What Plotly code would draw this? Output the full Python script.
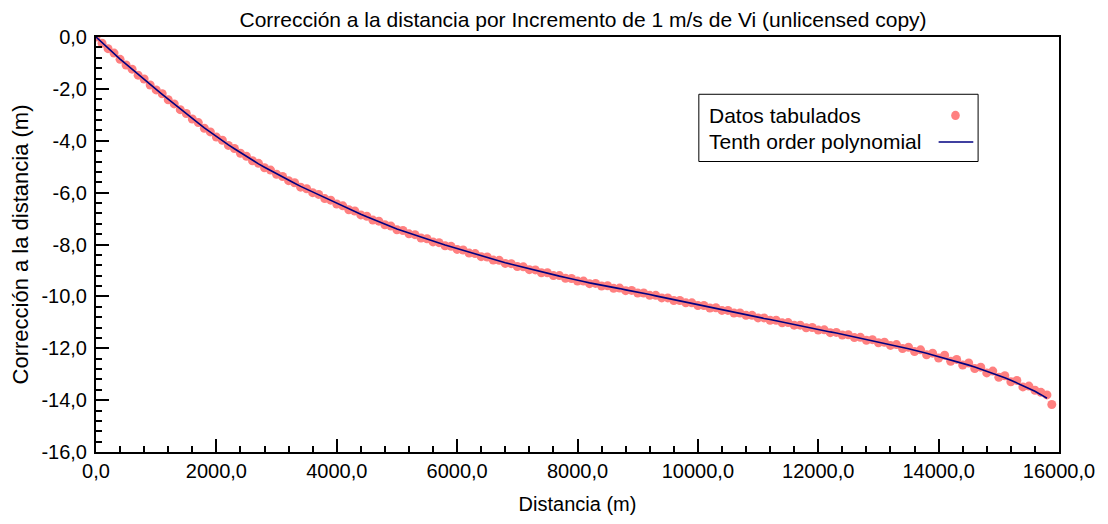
import plotly.graph_objects as go

# distancia (m) cada 100 m, mas el ultimo punto tabulado
distancia = list(range(0, 15801, 100))
dist_ultimo = 15880

# curva ajustada (polinomio de orden 10)
ajuste = [
    0.00, -0.22, -0.43, -0.64, -0.85, -1.05, -1.25, -1.45, -1.64, -1.83, -2.02,
    -2.21, -2.40, -2.59, -2.78, -2.96, -3.14, -3.32, -3.50, -3.67, -3.84,
    -4.00, -4.16, -4.31, -4.46, -4.61, -4.75, -4.89, -5.02, -5.15, -5.27,
    -5.40, -5.52, -5.64, -5.76, -5.87, -5.98, -6.09, -6.20, -6.31, -6.42,
    -6.53, -6.63, -6.73, -6.83, -6.93, -7.03, -7.12, -7.21, -7.31, -7.40,
    -7.48, -7.56, -7.64, -7.72, -7.80, -7.87, -7.95, -8.02, -8.09, -8.16,
    -8.23, -8.30, -8.37, -8.44, -8.50, -8.57, -8.63, -8.70, -8.76, -8.82,
    -8.88, -8.94, -9.00, -9.06, -9.11, -9.17, -9.22, -9.27, -9.33, -9.38,
    -9.43, -9.48, -9.52, -9.57, -9.61, -9.66, -9.70, -9.75, -9.79, -9.84,
    -9.89, -9.93, -9.98, -10.03, -10.08, -10.13, -10.18, -10.22, -10.27, -10.32,
    -10.37, -10.42, -10.46, -10.51, -10.56, -10.61, -10.66, -10.70, -10.75, -10.80,
    -10.85, -10.89, -10.94, -10.99, -11.04, -11.08, -11.13, -11.18, -11.22, -11.27,
    -11.32, -11.37, -11.41, -11.46, -11.51, -11.56, -11.61, -11.65, -11.70, -11.75,
    -11.80, -11.85, -11.91, -11.96, -12.02, -12.08, -12.13, -12.19, -12.26, -12.32,
    -12.38, -12.45, -12.51, -12.58, -12.65, -12.72, -12.80, -12.88, -12.96, -13.05,
    -13.14, -13.23, -13.33, -13.43, -13.54, -13.66, -13.79, -13.93,
]

# datos tabulados (puntos)
datos = [
    0.00, -0.24, -0.45, -0.62, -0.86, -1.08, -1.24, -1.47, -1.62, -1.85, -2.04,
    -2.19, -2.42, -2.58, -2.80, -2.95, -3.16, -3.30, -3.52, -3.66, -3.86,
    -3.98, -4.18, -4.30, -4.48, -4.60, -4.77, -4.87, -5.04, -5.13, -5.29,
    -5.38, -5.54, -5.62, -5.79, -5.85, -6.00, -6.07, -6.23, -6.29, -6.44,
    -6.51, -6.66, -6.71, -6.86, -6.91, -7.06, -7.10, -7.24, -7.29, -7.43,
    -7.46, -7.59, -7.62, -7.75, -7.78, -7.90, -7.93, -8.05, -8.07, -8.19,
    -8.21, -8.33, -8.35, -8.47, -8.48, -8.60, -8.61, -8.73, -8.74, -8.85,
    -8.86, -8.97, -8.98, -9.09, -9.09, -9.20, -9.20, -9.30, -9.31, -9.41,
    -9.41, -9.51, -9.50, -9.60, -9.59, -9.69, -9.68, -9.78, -9.77, -9.87,
    -9.87, -9.96, -9.96, -10.06, -10.06, -10.16, -10.16, -10.25, -10.25, -10.35,
    -10.35, -10.45, -10.44, -10.54, -10.54, -10.64, -10.64, -10.73, -10.73, -10.83,
    -10.83, -10.92, -10.92, -11.02, -11.01, -11.11, -11.11, -11.21, -11.20, -11.30,
    -11.29, -11.40, -11.39, -11.49, -11.48, -11.59, -11.58, -11.69, -11.67, -11.79,
    -11.77, -11.89, -11.86, -12.01, -11.96, -12.13, -12.06, -12.25, -12.19, -12.38,
    -12.27, -12.50, -12.43, -12.65, -12.57, -12.78, -12.73, -12.95, -12.88, -13.12,
    -13.06, -13.29, -13.24, -13.49, -13.46, -13.62, -13.70, -13.80,
    -14.17,
]
dist_datos = distancia + [dist_ultimo]

# etiquetas de los ejes
x_ticks = [0, 2000, 4000, 6000, 8000, 10000, 12000, 14000, 16000]
x_labels = ["0,0", "2000,0", "4000,0", "6000,0", "8000,0", "10000,0",
            "12000,0", "14000,0", "16000,0"]
y_ticks = [0, -2, -4, -6, -8, -10, -12, -14, -16]
y_labels = ["0,0", "-2,0", "-4,0", "-6,0", "-8,0", "-10,0", "-12,0",
            "-14,0", "-16,0"]

fuente = "Arial, Liberation Sans, sans-serif"
rojo = "#FF8080"
azul = "#000080"

fig = go.Figure()
fig.add_trace(go.Scatter(x=dist_datos, y=datos, mode="markers",
                         name="Datos tabulados",
                         marker=dict(color=rojo, size=9)))
fig.add_trace(go.Scatter(x=distancia, y=ajuste, mode="lines",
                         name="Tenth order polynomial",
                         line=dict(color=azul, width=1.6)))

eje = dict(showline=True, linecolor="black", linewidth=2, mirror=True,
           ticks="inside", tickwidth=2, tickcolor="black", ticklen=13,
           showgrid=False, zeroline=False, automargin=False,
           tickfont=dict(family=fuente, size=20, color="black"))

fig.update_xaxes(range=[0, 16000], tickvals=x_ticks, ticktext=x_labels,
                 minor=dict(ticks="inside", ticklen=6, tickwidth=2,
                            dtick=400, tick0=0, tickcolor="black"),
                 title=dict(text="Distancia (m)", standoff=16,
                            font=dict(family=fuente, size=20, color="black")),
                 ticklabelstandoff=0,
                 **eje)
fig.update_yaxes(range=[-16, 0], tickvals=y_ticks, ticktext=y_labels,
                 minor=dict(ticks="inside", ticklen=6, tickwidth=2,
                            dtick=0.4, tick0=0, tickcolor="black"),
                 title=dict(text="Corrección a la distancia (m)", standoff=8,
                            font=dict(family=fuente, size=22, color="black")),
                 ticklabelstandoff=3,
                 **eje)

# leyenda dibujada a mano (simbolos a la derecha del texto)
fig.add_shape(type="rect", xref="paper", yref="paper",
              x0=0.626, x1=0.916, y0=0.700, y1=0.862,
              line=dict(color="black", width=1), fillcolor="white")
fig.add_annotation(xref="paper", yref="paper", x=0.634, y=0.811,
                   text="Datos tabulados", showarrow=False,
                   xanchor="left", yanchor="middle",
                   font=dict(family=fuente, size=21, color="black"))
fig.add_annotation(xref="paper", yref="paper", x=0.634, y=0.747,
                   text="Tenth order polynomial", showarrow=False,
                   xanchor="left", yanchor="middle",
                   font=dict(family=fuente, size=21, color="black"))
fig.add_shape(type="circle", xref="paper", yref="paper",
              x0=0.888, x1=0.897, y0=0.800, y1=0.822,
              line=dict(width=0), fillcolor=rojo)
fig.add_shape(type="line", xref="paper", yref="paper",
              x0=0.875, x1=0.911, y0=0.747, y1=0.747,
              line=dict(color=azul, width=1.6))

# la pagina deja 8 px de margen arriba y a la izquierda
fig.update_layout(
    width=1108, height=524,
    margin=dict(l=88, r=57, t=29, b=80),
    paper_bgcolor="white", plot_bgcolor="white",
    showlegend=False,
    title=dict(text="Corrección a la distancia por Incremento de 1 m/s de Vi (unlicensed copy)",
               x=0.519, xanchor="center", y=0.978, yanchor="middle",
               font=dict(family=fuente, size=21, color="black")),
)

fig.write_html("out.html")
